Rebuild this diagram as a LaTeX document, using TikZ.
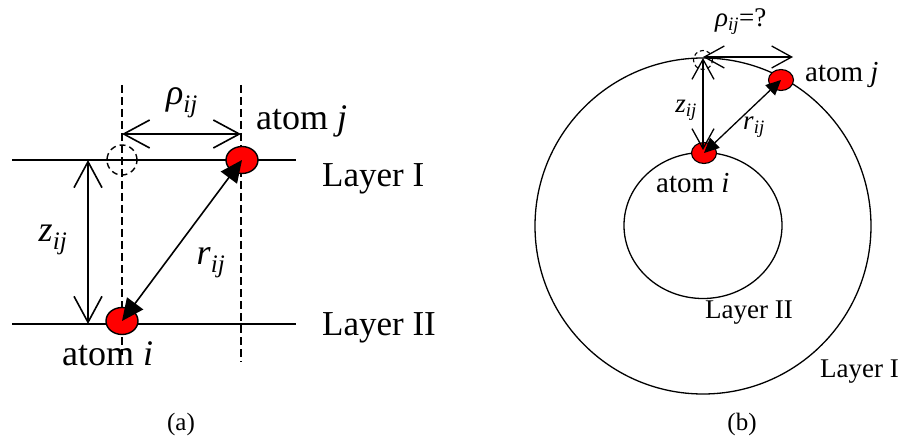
\documentclass[tikz,border=0pt]{standalone}
\usepackage{fontspec}
\setmainfont{Liberation Serif}
\usetikzlibrary{arrows.meta,shapes.geometric}
\newcommand{\sz}[1]{\fontsize{#1}{#1}\selectfont}
\tikzset{
  lineA/.style={line width=1.6pt},
  lineB/.style={line width=1.3pt},
  dashA/.style={line width=1.3pt, dash pattern=on 8pt off 4pt},
  openA/.style={lineA,{Straight Barb[length=26pt,width=28pt]}-{Straight Barb[length=26pt,width=28pt]}},
  openB/.style={lineB,{Straight Barb[length=20pt,width=22pt]}-{Straight Barb[length=20pt,width=22pt]}},
  solidA/.style={lineA,{Triangle[length=22pt,width=20pt]}-{Triangle[length=22pt,width=20pt]}},
  solidB/.style={lineB,{Triangle[length=15pt,width=14pt]}-{Triangle[length=15pt,width=14pt]}},
  atomA/.style={ellipse, draw, line width=1.4pt, fill=red, minimum width=32pt, minimum height=27pt, inner sep=0pt},
  atomB/.style={ellipse, draw, line width=1.1pt, fill=red, minimum width=25pt, minimum height=21pt, inner sep=0pt},
  lblA/.style={inner sep=0pt, font=\sz{36}},
  lblB/.style={inner sep=0pt, font=\sz{27}},
  captxt/.style={inner sep=0pt, font=\sz{25}}
}
\begin{document}
\begin{tikzpicture}[x=1pt,y=-1pt]
\useasboundingbox (0,0) rectangle (903,441);
% ---------- panel (a) ----------
\coordinate (LIa) at (12,160);
\coordinate (LIb) at (296,160);
\coordinate (LIIa) at (12,324);
\coordinate (LIIb) at (296,324);
\coordinate (dLt) at (122,85);
\coordinate (dLb) at (122,355);
\coordinate (dRt) at (241,85);
\coordinate (dRb) at (241,362);
\coordinate (rhoL) at (122,134);
\coordinate (rhoR) at (241,134);
\coordinate (zT) at (88,160);
\coordinate (zB) at (88,324);
\draw[lineA] (LIa) -- (LIb);
\draw[lineA] (LIIa) -- (LIIb);
\draw[dashA] (dLt) -- (dLb);
\draw[dashA] (dRt) -- (dRb);
\node[circle, draw, dash pattern=on 6pt off 4pt, line width=1.4pt, minimum size=30pt, inner sep=0pt] (ghostA) at (122,160) {};
\node[atomA] (ai) at (122,321) {};
\node[atomA] (aj) at (242,160) {};
\draw[openA] (rhoL) -- (rhoR);
\draw[openA] (zT) -- (zB);
\draw[solidA] (ai.center) -- (aj.center);
\node[lblA] (rhoa) at (182,103) {\textit{ρ}\textsubscript{\textit{ij}}};
\node[lblA] (za) at (53,240) {\textit{z}\textsubscript{\textit{ij}}};
\node[lblA] (ra) at (211,263) {\textit{r}\textsubscript{\textit{ij}}};
\node[lblA, anchor=base west] (tj) at (256,130) {atom \textit{j}};
\node[lblA, anchor=base west] (ti) at (62,365) {atom \textit{i}};
\node[lblA, anchor=base west, font=\sz{35}] (l1a) at (322,186) {Layer I};
\node[lblA, anchor=base west, font=\sz{35}] (l2a) at (322,335) {Layer II};
\node[captxt, anchor=base] (capa) at (181,430) {(a)};
% ---------- panel (b) ----------
\draw[lineB] (703,226) circle [radius=168];
\draw[lineB] (703,225.5) ellipse [x radius=79, y radius=73];
\coordinate (zbT) at (703,58);
\coordinate (zbB) at (703,150);
\coordinate (rbL) at (703,57);
\coordinate (rbR) at (793,57);
\node[circle, draw, dash pattern=on 4pt off 3pt, line width=1.1pt, minimum size=19pt, inner sep=0pt] (ghostB) at (703,60) {};
\node[atomB] (bi) at (704,153) {};
\node[atomB] (bj) at (781,80) {};
\draw[openB] (zbT) -- (zbB);
\draw[openB] (rbL) -- (rbR);
\draw[solidB] (bi.center) -- (bj.center);
\node[lblB, anchor=base west] (rhob) at (715,27) {\textit{ρ}\textsubscript{\textit{ij}}=?};
\node[lblB] (zb) at (686,110) {\textit{z}\textsubscript{\textit{ij}}};
\node[lblB] (rb) at (754,127) {\textit{r}\textsubscript{\textit{ij}}};
\node[lblB, anchor=base west, font=\sz{29}] (bjt) at (805,82) {atom \textit{j}};
\node[lblB, anchor=base west, font=\sz{29}] (bit) at (656,193) {atom \textit{i}};
\node[lblB, anchor=base west] (l2b) at (705,318) {Layer II};
\node[lblB, anchor=base west] (l1b) at (820,377) {Layer I};
\node[captxt, anchor=base] (capb) at (742,430) {(b)};
\end{tikzpicture}
\end{document}
